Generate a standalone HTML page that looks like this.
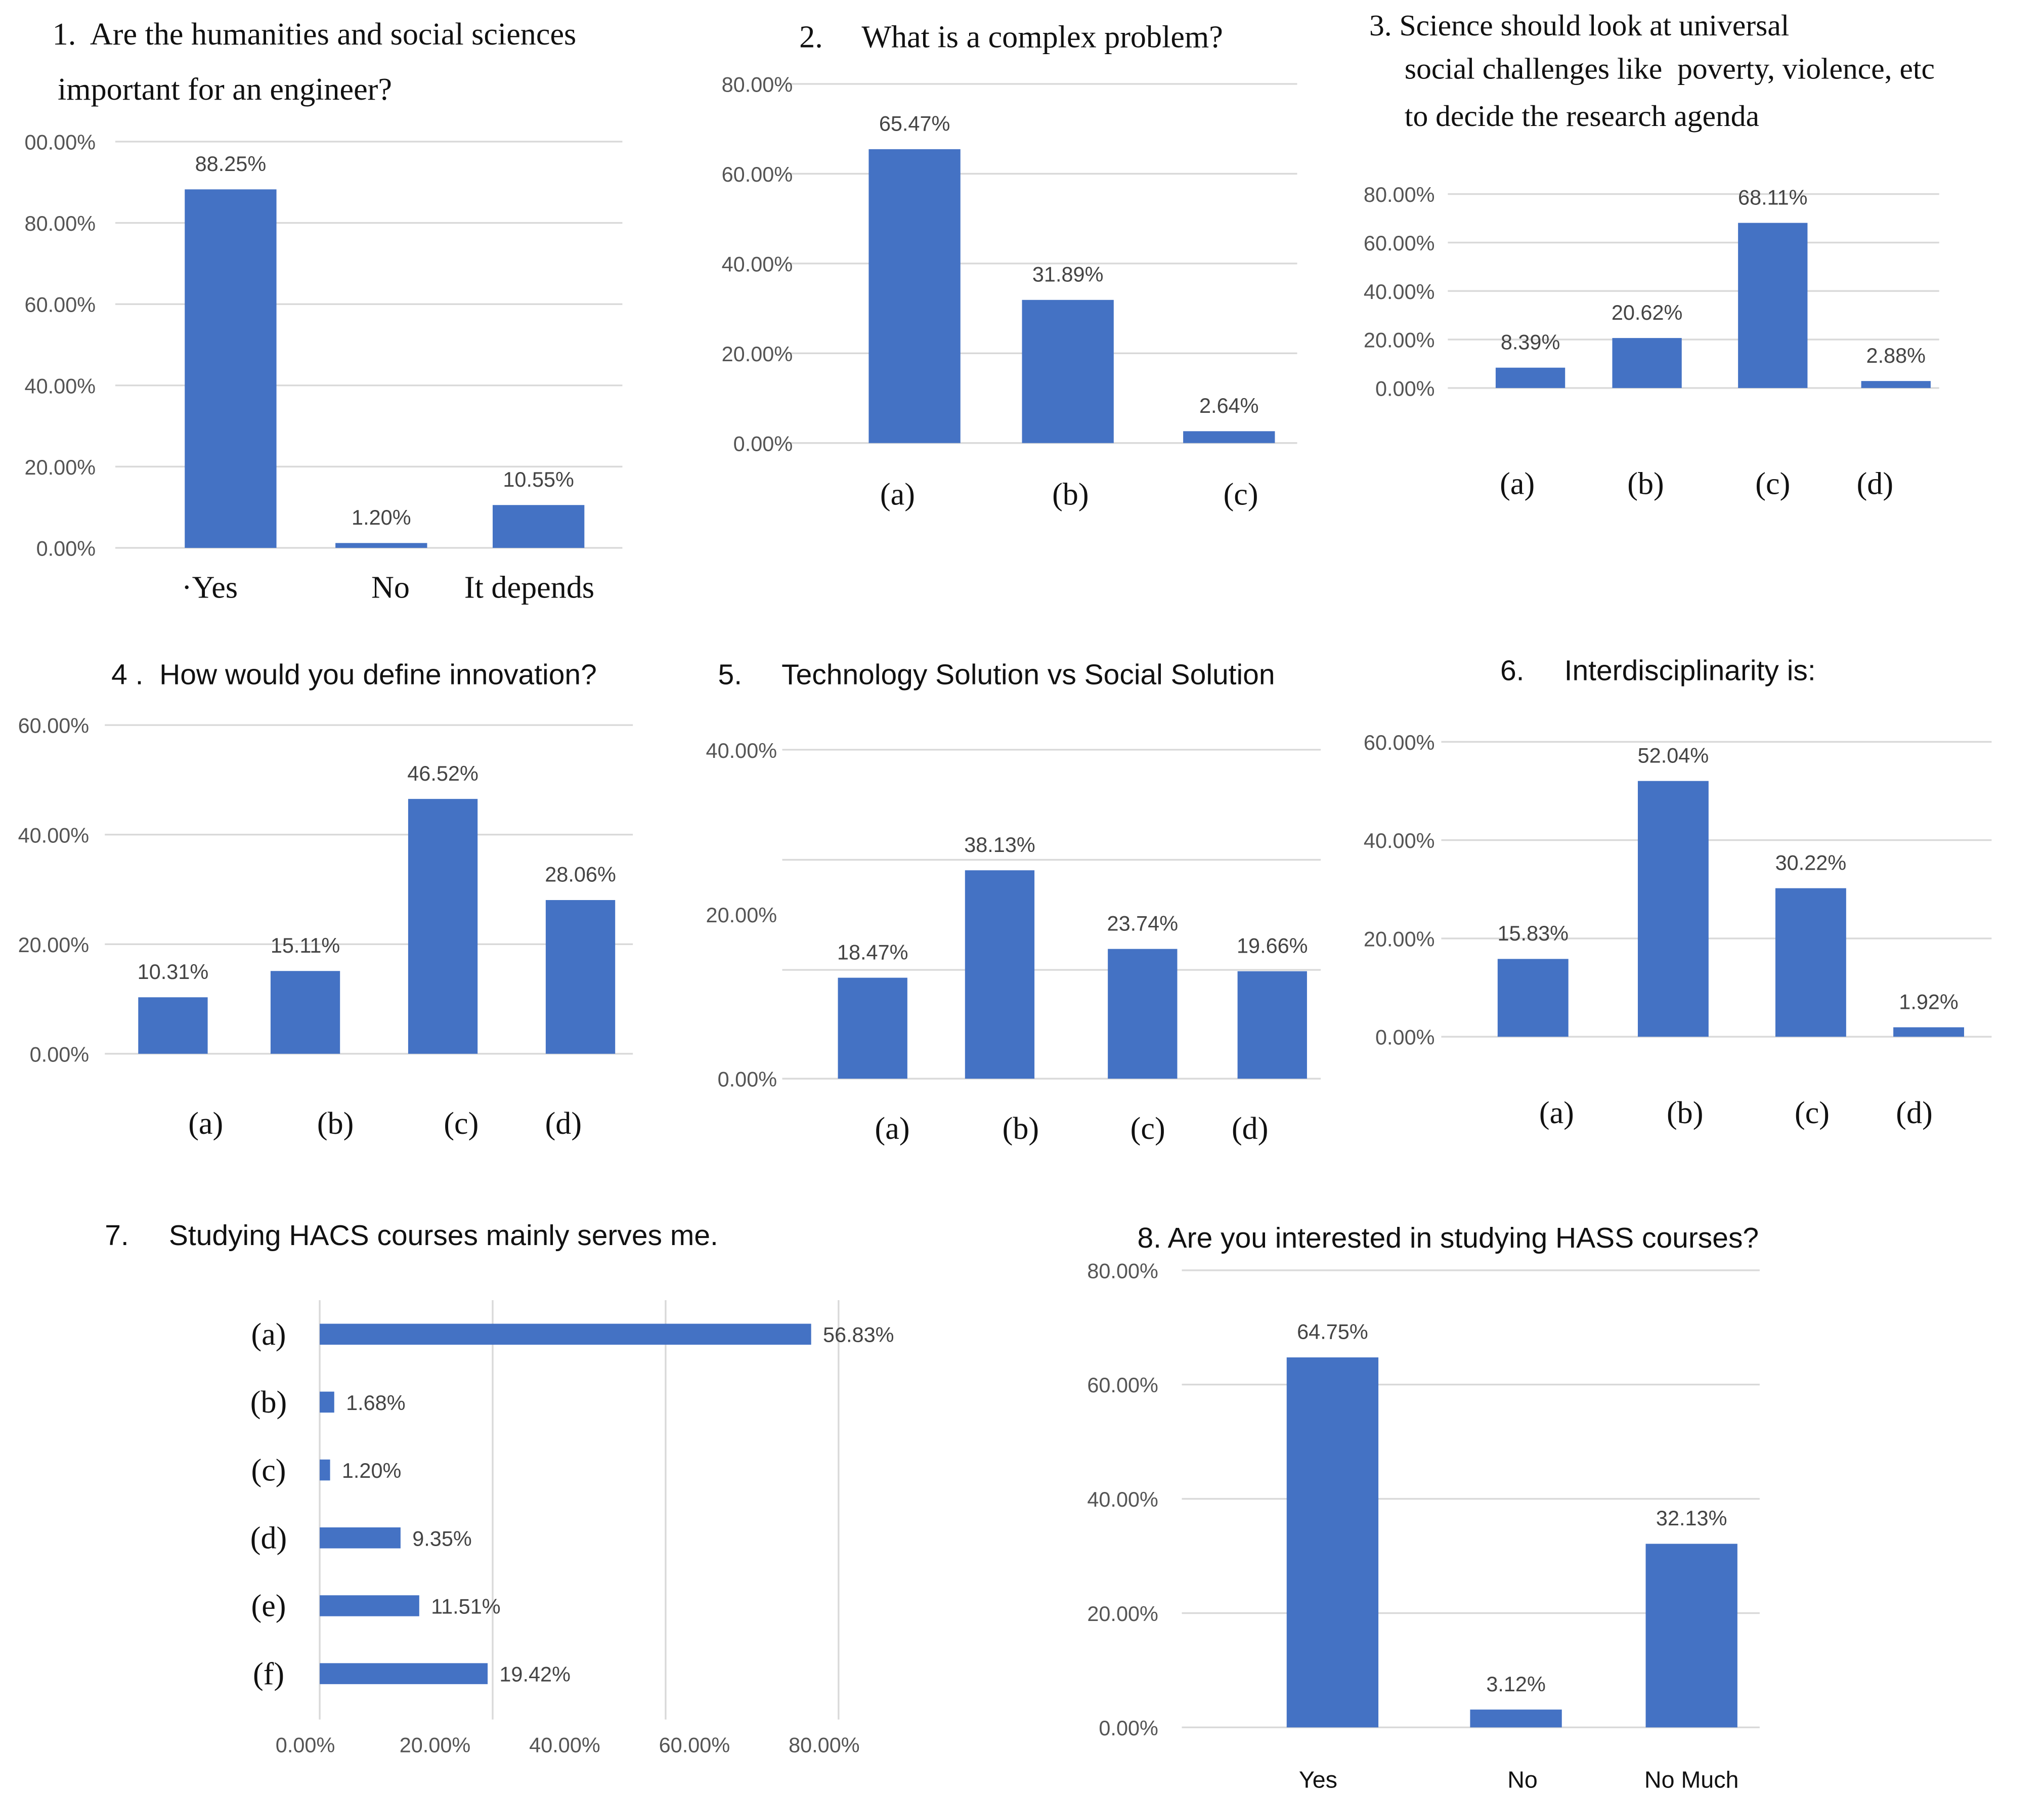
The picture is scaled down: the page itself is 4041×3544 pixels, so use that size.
<!DOCTYPE html>
<html><head><meta charset="utf-8"><style>
html,body{margin:0;padding:0;background:#fff}
svg{display:block}
.t{font-family:"Liberation Serif",serif;fill:#111;white-space:pre}
.s{font-family:"Liberation Sans",sans-serif}
</style></head><body>
<svg id="root" width="4041" height="3544" viewBox="0 0 1560 1368" xmlns="http://www.w3.org/2000/svg">
<rect width="1560" height="1368" fill="#fff"/>
<g>
<text class="t" xml:space="preserve" x="40" y="34" font-size="24">1.  Are the humanities and social sciences</text>
<text class="t" x="44" y="76" font-size="24">important for an engineer?</text>
<text class="t" xml:space="preserve" x="610" y="36" font-size="24">2.     What is a complex problem?</text>
<text class="t" x="1045" y="27" font-size="23">3. Science should look at universal</text>
<text class="t" xml:space="preserve" x="1072" y="60" font-size="23">social challenges like  poverty, violence, etc</text>
<text class="t" x="1072" y="96" font-size="23">to decide the research agenda</text>
<text class="t s" xml:space="preserve" x="85" y="522" font-size="22">4 .  How would you define innovation?</text>
<text class="t s" xml:space="preserve" x="548" y="522" font-size="22">5.     Technology Solution vs Social Solution</text>
<text class="t s" xml:space="preserve" x="1145" y="519" font-size="22">6.     Interdisciplinarity is:</text>
<text class="t s" xml:space="preserve" x="80" y="950" font-size="22">7.     Studying HACS courses mainly serves me.</text>
<text class="t s" x="868" y="952" font-size="22">8. Are you interested in studying HASS courses?</text>
</g>
</svg>
<script>
const c1Cats=["·Yes","No","It depends"], c1Vals=[88.25,1.20,10.55], c1Ticks=["0.00%","20.00%","40.00%","60.00%","80.00%","00.00%"];
const c2Cats=["(a)","(b)","(c)"], c2Vals=[65.47,31.89,2.64], c2Ticks=["0.00%","20.00%","40.00%","60.00%","80.00%"];
const c3Cats=["(a)","(b)","(c)","(d)"], c3Vals=[8.39,20.62,68.11,2.88], c3Ticks=["0.00%","20.00%","40.00%","60.00%","80.00%"];
const c4Cats=["(a)","(b)","(c)","(d)"], c4Vals=[10.31,15.11,46.52,28.06], c4Ticks=["0.00%","20.00%","40.00%","60.00%"];
const c5Cats=["(a)","(b)","(c)","(d)"], c5Vals=[18.47,38.13,23.74,19.66], c5Ticks=["0.00%","20.00%","40.00%"];
const c6Cats=["(a)","(b)","(c)","(d)"], c6Vals=[15.83,52.04,30.22,1.92], c6Ticks=["0.00%","20.00%","40.00%","60.00%"];
const c7Cats=["(a)","(b)","(c)","(d)","(e)","(f)"], c7Vals=[56.83,1.68,1.20,9.35,11.51,19.42], c7Ticks=["0.00%","20.00%","40.00%","60.00%","80.00%"];
const c8Cats=["Yes","No","No Much"], c8Vals=[64.75,3.12,32.13], c8Ticks=["0.00%","20.00%","40.00%","60.00%","80.00%"];

const NS="http://www.w3.org/2000/svg", root=document.getElementById('root');
function mk(tag,attrs,parent,txt){const e=document.createElementNS(NS,tag);for(const k in attrs)e.setAttribute(k,attrs[k]);if(txt!==undefined)e.textContent=txt;parent.appendChild(e);return e;}
const BLUE="#4472C4",GRID="#d9d9d9",TXT="#555";

function vchart(id,cfg){
  const g=mk('g',{},root);
  
  
  const {cats,vals,ticks,y0,tickStep,pxPerPct,barScale,gx0,gx1,labX,centers,catCenters,bw,catY,serif,catSize,gridYs}=cfg;
  const yT=v=>y0-v*pxPerPct, yB=v=>y0-v*(barScale||pxPerPct);
  const gys=gridYs||ticks.map((t,i)=>yT(i*tickStep));
  gys.forEach(y=>{const l=mk('line',{x1:gx0,x2:gx1,y1:y,y2:y,stroke:GRID,'stroke-width':1.3},g);
    });
  ticks.forEach((t,i)=>{const e=mk('text',{x:labX,y:yT(i*tickStep)+6,'text-anchor':'end','font-size':16,fill:TXT,'font-family':'Liberation Sans, sans-serif'},g,t);
    });
  vals.forEach((v,i)=>{const top=yB(v);
    const r=mk('rect',{x:centers[i]-bw/2,y:top,width:bw,height:y0-top,fill:BLUE},g);
    
    const t=mk('text',{x:centers[i],y:top-14,'text-anchor':'middle','font-size':16,fill:'#444','font-family':'Liberation Sans, sans-serif'},g,v.toFixed(2)+'%');
    });
  cats.forEach((c,i)=>{const t=mk('text',{x:(catCenters||centers)[i],y:catY,'text-anchor':'middle','font-size':catSize||24,fill:'#111','font-family':serif?'Liberation Serif, serif':'Liberation Sans, sans-serif'},g,c);
    });
}
vchart('chart-1',{cats:c1Cats,vals:c1Vals,ticks:c1Ticks,y0:418,tickStep:20,pxPerPct:3.1,gx0:88,gx1:475,labX:73,centers:[176,291,411],catCenters:[160,298,404],bw:70,catY:456,serif:true});
vchart('chart-2',{cats:c2Cats,vals:c2Vals,ticks:c2Ticks,y0:338,tickStep:20,pxPerPct:3.425,gx0:600,gx1:990,labX:605,centers:[698,815,938],catCenters:[685,817,947],bw:70,catY:385,serif:true});
vchart('chart-3',{cats:c3Cats,vals:c3Vals,ticks:c3Ticks,y0:296,tickStep:20,pxPerPct:1.85,gx0:1105,gx1:1480,labX:1095,centers:[1168,1257,1353,1447],catCenters:[1158,1256,1353,1431],bw:53,catY:377,serif:true});
vchart('chart-4',{cats:c4Cats,vals:c4Vals,ticks:c4Ticks,y0:804,tickStep:20,pxPerPct:4.18,gx0:80,gx1:483,labX:68,centers:[132,233,338,443],catCenters:[157,256,352,430],bw:53,catY:865,serif:true});
vchart('chart-5',{cats:c5Cats,vals:c5Vals,ticks:c5Ticks,y0:823,tickStep:20,pxPerPct:6.27,barScale:4.17,gx0:597,gx1:1008,labX:593,centers:[666,763,872,971],catCenters:[681,779,876,954],bw:53,catY:869,serif:true,gridYs:[572,656,740,823]});
vchart('chart-6',{cats:c6Cats,vals:c6Vals,ticks:c6Ticks,y0:791,tickStep:20,pxPerPct:3.75,gx0:1100,gx1:1520,labX:1095,centers:[1170,1277,1382,1472],catCenters:[1188,1286,1383,1461],bw:54,catY:857,serif:true});
vchart('chart-8',{cats:c8Cats,vals:c8Vals,ticks:c8Ticks,y0:1318,tickStep:20,pxPerPct:4.36,gx0:902,gx1:1343,labX:884,centers:[1017,1157,1291],catCenters:[1006,1162,1291],bw:70,catY:1364,serif:false,catSize:18});

(function(){
  const g=mk('g',{},root);
  
  
  const x0=244, sc=6.6, rowY0=1018, rowStep=51.8, bh=16;
  const xS=v=>x0+v*sc;
  [0,20,40,60].forEach(v=>{const l=mk('line',{x1:xS(v),x2:xS(v),y1:992,y2:1312,stroke:GRID,'stroke-width':1.3},g);
    });
  c7Ticks.forEach((t,i)=>{const e=mk('text',{x:233+99*i,y:1337,'text-anchor':'middle','font-size':16,fill:TXT,'font-family':'Liberation Sans, sans-serif'},g,t);
    });
  c7Vals.forEach((v,i)=>{const y=rowY0+i*rowStep;
    const r=mk('rect',{x:x0,y:y-bh/2,width:xS(v)-x0,height:bh,fill:BLUE},g);
    
    const t=mk('text',{x:xS(v)+9,y:y+6,'font-size':16,fill:'#444','font-family':'Liberation Sans, sans-serif'},g,v.toFixed(2)+'%');
    
    const c=mk('text',{x:205,y:y+8,'text-anchor':'middle','font-size':24,fill:'#111','font-family':'Liberation Serif, serif'},g,c7Cats[i]);
    });
})();
</script>
</body></html>
